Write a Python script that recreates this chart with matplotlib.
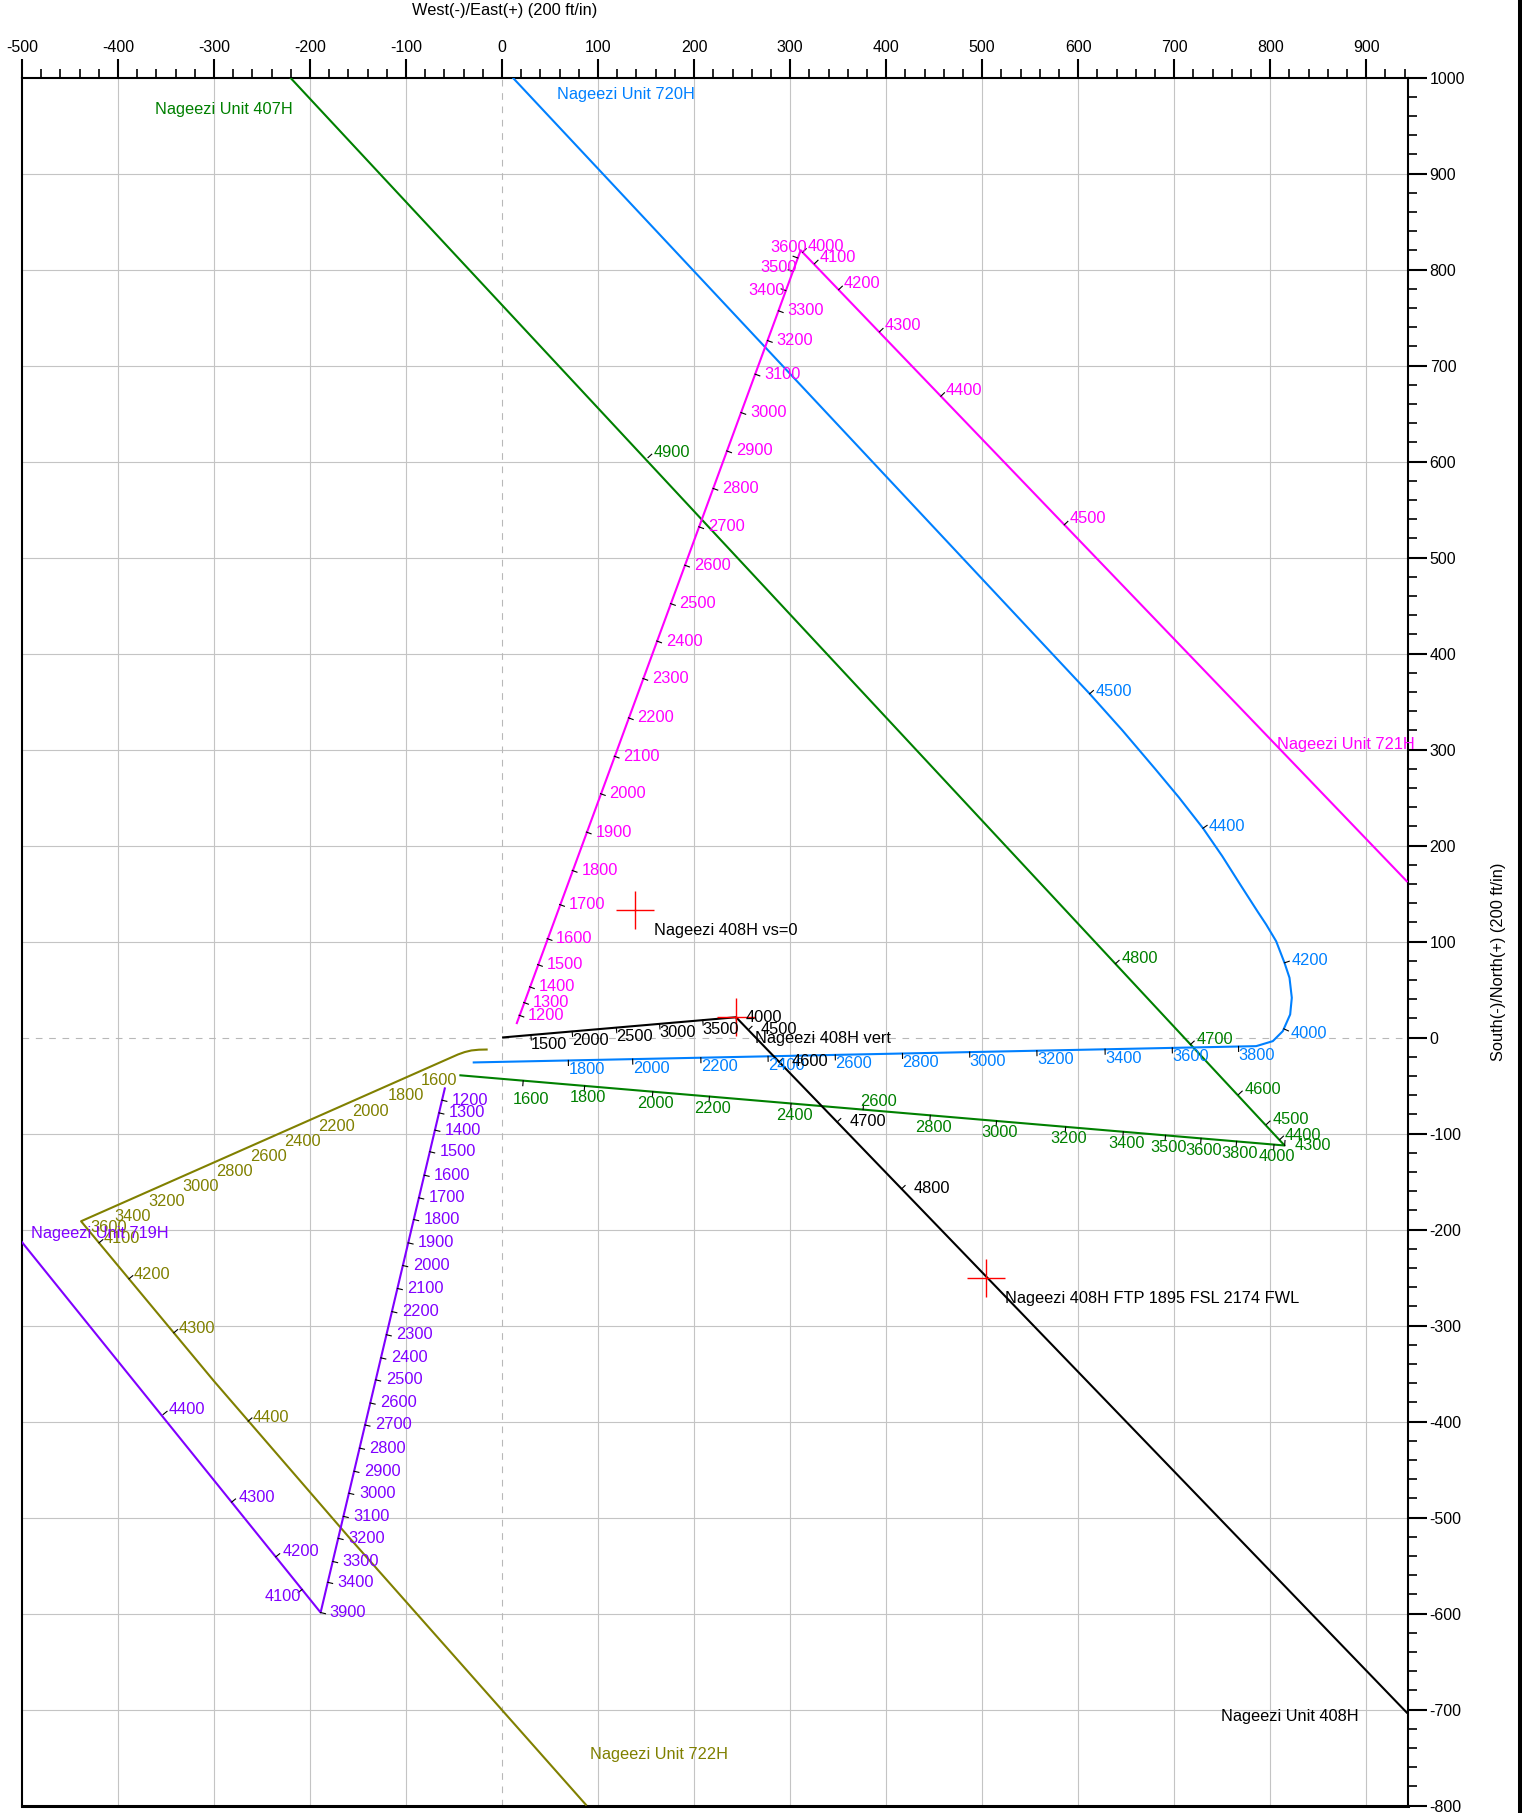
import numpy as np
import matplotlib.pyplot as plt
from matplotlib.lines import Line2D
from matplotlib.ticker import MultipleLocator

plt.rcParams['font.family'] = ['Liberation Sans', 'DejaVu Sans']
plt.rcParams['axes.unicode_minus'] = False

# ---- well paths (East, North in ft) and MD label stations ----
# Nageezi Unit 408H
w408_e = [0, 243.7, 943]
w408_n = [0, 21.1, -704]
w408_md = [1500, 2000, 2500, 3000, 3500, 4000, 4500, 4600, 4700, 4800]
w408_me = [30, 73, 119, 164, 209, 243.7, 256.5, 288.6, 349, 416]
w408_mn = [2.6, 6.3, 10.2, 14.1, 18.0, 21.1, 8, -25.3, -88, -157.8]

# Nageezi Unit 721H
w721_e = [15, 311, 943]
w721_n = [14, 820, 162]
w721_md = [1200, 1300, 1400, 1500, 1600, 1700, 1800, 1900, 2000, 2100, 2200, 2300,
           2400, 2500, 2600, 2700, 2800, 2900, 3000, 3100, 3200, 3300, 3400, 3500,
           3600, 4000, 4100, 4200, 4300, 4400, 4500]
w721_me = [17.7, 22.5, 28.6, 37, 47, 60, 73.1, 87.8, 102.5, 116.9, 131.6, 146.7,
           161.1, 175.5, 190.2, 204.9, 219.7, 234.0, 248.8, 263.5, 276.4, 287.8, 295.5, 302.9,
           308.0, 313, 325.3, 350.6, 393, 457, 585.5]
w721_mn = [23.2, 36.5, 52.8, 76, 103, 138.5, 174, 214, 254, 293, 333, 374,
           413, 452, 492, 532, 572, 611, 651, 691, 726, 757, 778, 798,
           812, 818, 806, 779, 735, 668, 534]

# Nageezi Unit 720H
w720_e = [-30.6, 785.4, 802.7, 813.1, 820.8, 822.5, 820.1, 814.9, 806.2, 795.8,
          787, 778, 769, 750, 730, 705, 680, 646, 612, 11]
w720_n = [-26, -9, -3.8, 6.6, 24, 41.4, 62.2, 77.8, 100.3, 117.7,
          131, 145, 159, 189, 218, 250, 280, 320, 358, 1000]
w720_md = [1800, 2000, 2200, 2400, 2600, 2800, 3000, 3200, 3400, 3600, 3800,
           4000, 4200, 4400, 4500]
w720_me = [69, 136, 207, 277, 347, 417, 487, 557, 628, 698, 767, 814.2, 814.9, 730, 612]
w720_mn = [-23.9, -22.5, -21.0, -19.6, -18.1, -16.6, -15.2, -13.7, -12.2, -10.8, -9.3,
           9, 77.8, 218, 358]

# Nageezi Unit 407H
w407_e = [-44.5, 815, -220.7]
w407_n = [-39.3, -112.5, 1000]
w407_md = [1600, 1800, 2000, 2200, 2400, 2600, 2800, 3000, 3200, 3400, 3500, 3600,
           3800, 4000, 4300, 4400, 4500, 4600, 4700, 4800, 4900]
w407_me = [22, 86, 157, 216, 301, 376, 446, 515, 587, 647, 691, 728,
           765, 804, 815, 810, 796, 767, 717, 638.8, 152]
w407_mn = [-45.0, -50.4, -56.4, -61.4, -68.7, -75.1, -81.1, -86.9, -93.1, -98.1, -101.9, -105.1,
           -108.2, -111.6, -112.5, -106.3, -90.6, -59.4, -7.3, 76.8, 604]

# Nageezi Unit 719H
w719_e = [-59.4, -189, -501]
w719_n = [-52, -599, -212]
w719_md = [1200, 1300, 1400, 1500, 1600, 1700, 1800, 1900, 2000, 2100, 2200, 2300,
           2400, 2500, 2600, 2700, 2800, 2900, 3000, 3100, 3200, 3300, 3400,
           3900, 4100, 4200, 4300, 4400]
w719_me = [-62.6, -65.7, -69.9, -75.3, -81.1, -86.7, -92.0, -97.8, -103.4, -109.0, -114.7, -120.5,
           -126.2, -131.6, -137.3, -142.7, -148.4, -154.2, -159.6, -165.3, -170.7, -176.4, -181.6,
           -189, -208.3, -235.7, -281.7, -353]
w719_mn = [-65.3, -78.5, -96.5, -119, -143.4, -167, -189.6, -213.9, -237.5, -261.4, -285.5, -309.6,
           -333.7, -356.6, -380.7, -403.6, -427.7, -451.8, -474.7, -498.8, -521.7, -545.8, -567.5,
           -599, -575, -541, -484, -392.7]

# Nageezi Unit 722H
w722_e = [-15, -24, -32, -39, -46, -438.5, -300, -160, 88]
w722_n = [-12.5, -12.7, -13.5, -15.2, -17.7, -191.4, -358, -520, -800]
w722_md = [1600, 1800, 2000, 2200, 2400, 2600, 2800, 3000, 3200, 3400, 3600,
           4100, 4200, 4300, 4400]
w722_me = [-84.4, -119.2, -156.3, -192.1, -226.8, -262.2, -297.9, -332.7, -368.1, -403.9, -429.2,
           -419.8, -388.6, -341.9, -264.5]
w722_mn = [-34.7, -50.1, -66.5, -82.3, -97.7, -113.4, -129.2, -144.6, -160.2, -176.1, -187.3,
           -213.9, -251.4, -307.6, -399.7]

# target crosses
cross_e = [138, 243.7, 504]
cross_n = [133, 21.1, -250]
cross_txt = ['Nageezi 408H vs=0', 'Nageezi 408H vert', 'Nageezi 408H FTP 1895 FSL 2174 FWL']

# ---- label placement: (md range) -> (dx px, dy px, ha, draw tick) ----
rules408 = [((1500, 3500), (0, -9, 'left', True)), ((4000, 4000), (10, 0, 'left', True)),
            ((4500, 4800), (12, 0, 'left', True))]
rules721 = [((1200, 3300), (9, 0, 'left', True)), ((3400, 3400), (-1, 0, 'right', True)),
            ((3500, 3500), (4, 4, 'right', True)), ((3600, 3600), (9, 10, 'right', True)),
            ((4000, 4500), (5, 6, 'left', True))]
rules720 = [((1800, 3800), (0, -9, 'left', True)), ((4000, 4000), (7, -5, 'left', True)),
            ((4200, 4200), (7, 2, 'left', True)), ((4400, 4500), (6, 2, 'left', True))]
rules407 = [((1600, 1600), (8, -19, 'center', True)), ((2600, 2600), (15, 8, 'center', True)),
            ((1800, 4000), (3, -12, 'center', True)), ((4300, 4300), (10, 0, 'left', True)),
            ((4400, 4400), (5, 4, 'left', True)), ((4500, 4900), (6, 5, 'left', True))]
rules719 = [((1200, 3400), (10, 0, 'left', True)), ((3900, 3900), (9, 0, 'left', True)),
            ((4100, 4100), (-1, -7, 'right', True)), ((4200, 4300), (7, 5, 'left', True)),
            ((4400, 4400), (5, 5, 'left', True))]
rules722 = [((1600, 3600), (0, -10, 'left', False)), ((4100, 4400), (5, 4, 'left', True))]

FS = 11.8
PX_PER_FT = 0.96

fig = plt.figure(figsize=(15.22, 18.13), dpi=100)
ax = fig.add_axes([22 / 1522, 1 - 1805.5 / 1813, (1407.5 - 22) / 1522, (1805.5 - 77.5) / 1813])
ax.set_xlim(-500, 943)
ax.set_ylim(-800, 1000)

# grid (the zero lines are dashed instead)
for gx in range(-400, 901, 100):
    if gx != 0:
        ax.axvline(gx, color='#c4c4c4', lw=0.8, zorder=0)
for gy in range(-700, 901, 100):
    if gy != 0:
        ax.axhline(gy, color='#c4c4c4', lw=0.8, zorder=0)
ax.axvline(0, color='#b8b8b8', lw=0.8, ls=(0, (6, 6)), zorder=0)
ax.axhline(0, color='#b8b8b8', lw=0.8, ls=(0, (6, 6)), zorder=0)

ax.xaxis.set_major_locator(MultipleLocator(100))
ax.xaxis.set_minor_locator(MultipleLocator(20))
ax.yaxis.set_major_locator(MultipleLocator(100))
ax.yaxis.set_minor_locator(MultipleLocator(20))
ax.tick_params(which='both', top=True, bottom=False, left=False, right=True,
               labeltop=True, labelbottom=False, labelleft=False, labelright=True,
               direction='out')
ax.tick_params(which='major', length=14, width=1.5, labelsize=11.5, pad=2)
ax.tick_params(which='minor', length=6.5, width=1.2)
for s in ax.spines.values():
    s.set_linewidth(1.5)
ax.spines['bottom'].set_linewidth(2.2)


def rule_for(md, rules):
    for (lo, hi), r in rules:
        if lo <= md <= hi:
            return r
    return (5, 0, 'left', True)


def tick_dir(e, n, x, y, cvec):
    # normal of the nearest path segment, pointing toward the label
    best, d = None, 1e9
    for i in range(len(e) - 1):
        p0 = np.array([e[i], n[i]])
        p1 = np.array([e[i + 1], n[i + 1]])
        v = p1 - p0
        t = np.clip(np.dot([x, y] - p0, v) / np.dot(v, v), 0, 1)
        dist = np.hypot(*(p0 + t * v - [x, y]))
        if dist < d:
            d, best = dist, v / np.hypot(*v)
    nrm = np.array([-best[1], best[0]])
    if np.dot(nrm, cvec) < 0:
        nrm = -nrm
    return nrm


def draw_well(e, n, md, me, mn, color, rules):
    ax.plot(e, n, color=color, lw=1.5, zorder=3, solid_capstyle='butt', solid_joinstyle='round')
    for m, x, y in zip(md, me, mn):
        dx, dy, ha, tick = rule_for(m, rules)
        hw = {'left': 18, 'right': -18, 'center': 0}[ha]
        if tick:
            nx, ny = tick_dir(e, n, x, y, np.array([dx + hw, dy]))
            L = 5 / PX_PER_FT
            ax.plot([x, x + nx * L], [y, y + ny * L], color='black', lw=0.8, zorder=4)
        ax.annotate(str(m), (x, y), xytext=(dx, dy), textcoords='offset pixels',
                    ha=ha, va='center', color=color, fontsize=FS, zorder=5)


draw_well(w407_e, w407_n, w407_md, w407_me, w407_mn, '#008000', rules407)
draw_well(w720_e, w720_n, w720_md, w720_me, w720_mn, '#0080ff', rules720)
draw_well(w721_e, w721_n, w721_md, w721_me, w721_mn, '#ff00ff', rules721)
draw_well(w722_e, w722_n, w722_md, w722_me, w722_mn, '#808000', rules722)
draw_well(w719_e, w719_n, w719_md, w719_me, w719_mn, '#8000ff', rules719)
draw_well(w408_e, w408_n, w408_md, w408_me, w408_mn, 'black', rules408)

# well names
ax.text(-362, 967, 'Nageezi Unit 407H', color='#008000', fontsize=FS, va='center')
ax.text(57, 982, 'Nageezi Unit 720H', color='#0080ff', fontsize=FS, va='center')
ax.text(807.6, 305, 'Nageezi Unit 721H', color='#ff00ff', fontsize=FS, va='center', clip_on=False)
ax.text(749, -707.6, 'Nageezi Unit 408H', color='black', fontsize=FS, va='center')
ax.text(-490.6, -204.5, 'Nageezi Unit 719H', color='#8000ff', fontsize=FS, va='center', zorder=6)
ax.text(92, -746.6, 'Nageezi Unit 722H', color='#808000', fontsize=FS, va='center')

# targets
ax.plot(cross_e, cross_n, ls='none', marker='+', ms=27, mew=1.0, color='red', zorder=4)
for x, y, t in zip(cross_e, cross_n, cross_txt):
    ax.annotate(t, (x, y), xytext=(19, -21), textcoords='offset pixels',
                ha='left', va='center', color='black', fontsize=FS, zorder=6)

fig.text(505 / 1522, 1 - 10.4 / 1813, 'West(-)/East(+) (200 ft/in)',
         ha='center', va='center', fontsize=FS)
fig.text(1499 / 1522, 1 - 961.6 / 1813, 'South(-)/North(+) (200 ft/in)',
         ha='center', va='center', rotation=90, fontsize=FS)
fig.add_artist(Line2D([1520 / 1522, 1520 / 1522], [0, 1], color='black', lw=2.9))

fig.savefig('out.png', dpi=100)
